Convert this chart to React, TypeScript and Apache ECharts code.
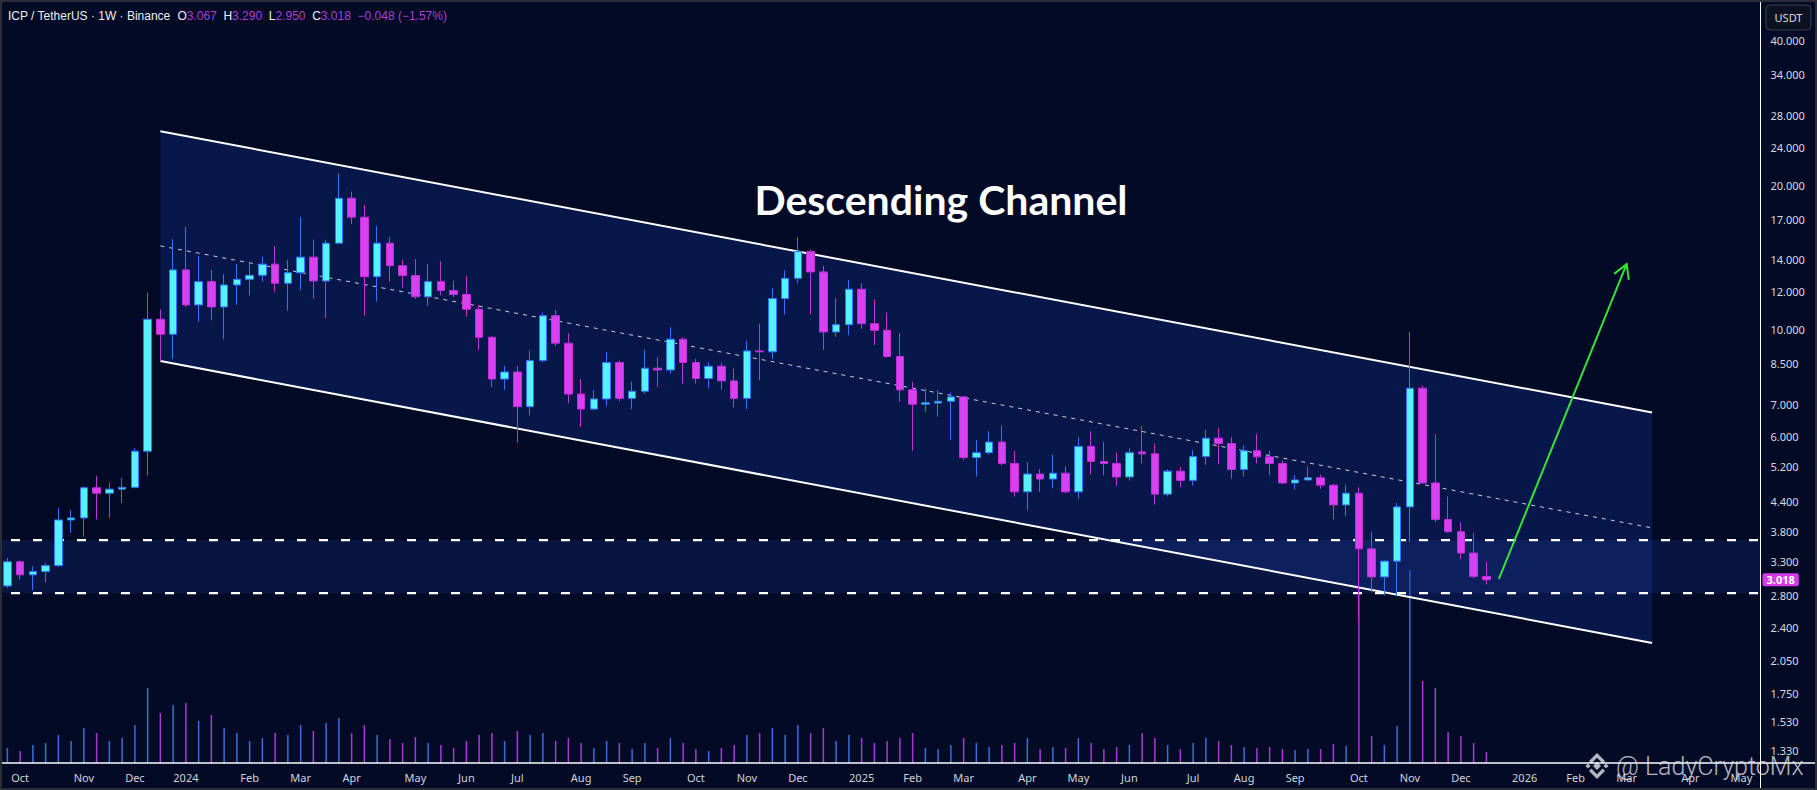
import React, { useEffect, useRef } from "react";
import * as echarts from "echarts";

// ---------- data ----------
const START_DATE_UTC = Date.UTC(2023, 8, 25); // first weekly candle (Mon 25 Sep 2023)
const WEEKS_ON_AXIS = 138; // candles + empty future weeks shown on the time axis

const opens = [
  2.93, 3.29, 3.09, 3.14, 3.23, 4.02, 4.06, 4.69, 4.57, 4.66,
  4.7, 5.59, 10.52, 9.79, 13.33, 11.27, 12.6, 11.16, 12.4, 12.74,
  12.99, 13.7, 12.5, 13.15, 14.17, 12.64, 15.15, 18.79, 17.16, 12.9,
  15.15, 13.6, 12.97, 11.72, 12.6, 12.07, 11.85, 11.04, 9.65, 7.9,
  8.17, 6.92, 8.63, 10.7, 9.38, 7.35, 6.84, 7.18, 8.55, 7.2,
  7.45, 8.32, 8.25, 9.56, 8.55, 7.92, 8.4, 7.83, 7.2, 9.04,
  9.0, 11.62, 12.8, 14.55, 13.2, 9.9, 10.25, 12.15, 10.3, 9.98,
  8.8, 7.5, 7.0, 7.04, 7.1, 7.25, 5.42, 5.55, 5.84, 5.27,
  4.6, 5.01, 4.89, 5.03, 4.6, 5.72, 5.32, 5.27, 4.94, 5.57,
  5.52, 4.55, 5.08, 4.86, 5.45, 5.95, 5.8, 5.12, 5.6, 5.44,
  5.27, 4.8, 4.87, 4.92, 4.75, 4.32, 4.57, 3.5, 3.06, 3.3,
  4.28, 7.56, 4.8, 4.03, 3.8, 3.43, 3.067,
];
const highs = [
  3.35, 3.31, 3.22, 3.27, 4.26, 4.22, 4.72, 4.97, 4.81, 4.92,
  5.67, 11.95, 11.04, 15.44, 16.4, 14.25, 13.33, 13.07, 13.72, 13.76,
  14.2, 14.95, 13.98, 17.16, 15.4, 15.4, 21.19, 19.4, 18.2, 16.46,
  15.6, 14.0, 14.05, 13.72, 13.9, 12.65, 12.95, 11.27, 9.7, 8.42,
  8.4, 9.05, 10.86, 11.0, 9.85, 7.9, 7.5, 9.0, 8.63, 7.8,
  9.1, 8.78, 10.12, 9.65, 8.7, 8.55, 8.55, 8.3, 9.5, 10.3,
  12.2, 13.3, 15.6, 14.7, 13.6, 11.65, 12.7, 12.5, 11.58, 10.86,
  9.85, 7.8, 7.55, 7.5, 7.4, 7.28, 5.9, 6.15, 6.33, 5.6,
  5.3, 5.13, 5.5, 5.2, 5.98, 6.15, 5.85, 5.55, 5.67, 6.3,
  5.8, 5.13, 5.18, 5.62, 6.18, 6.25, 5.98, 5.75, 6.08, 5.6,
  5.35, 4.98, 5.2, 5.0, 4.78, 4.76, 4.7, 3.8, 3.31, 4.36,
  9.9, 7.65, 6.06, 4.5, 3.98, 3.78, 3.29,
];
const lows = [
  2.9, 3.02, 2.87, 2.98, 3.21, 3.78, 3.71, 4.03, 4.06, 4.36,
  4.68, 4.97, 8.61, 8.7, 11.16, 10.4, 10.47, 9.56, 11.27, 11.78,
  12.6, 12.0, 10.96, 12.07, 11.6, 10.57, 15.1, 16.6, 10.7, 11.45,
  12.6, 12.24, 11.6, 11.2, 11.8, 11.7, 10.65, 9.08, 7.6, 7.5,
  5.82, 6.63, 8.55, 9.25, 7.03, 6.28, 6.8, 6.95, 7.1, 6.84,
  7.36, 7.6, 8.1, 7.73, 7.73, 7.55, 7.5, 6.9, 6.84, 7.85,
  8.7, 10.76, 12.5, 10.76, 9.08, 9.68, 9.75, 10.05, 9.3, 8.75,
  7.08, 5.6, 6.75, 6.6, 5.9, 5.35, 4.95, 5.5, 5.22, 4.5,
  4.21, 4.6, 4.68, 4.57, 4.45, 5.0, 4.98, 4.73, 4.86, 5.27,
  4.33, 4.5, 4.7, 4.74, 5.24, 5.25, 4.9, 4.95, 5.27, 4.98,
  4.78, 4.65, 4.86, 4.67, 4.03, 4.1, 2.5, 2.84, 2.8, 2.79,
  3.62, 4.78, 3.98, 3.78, 3.33, 3.04, 2.95,
];
const closes = [
  3.29, 3.09, 3.14, 3.23, 4.02, 4.06, 4.69, 4.57, 4.66, 4.7,
  5.59, 10.52, 9.79, 13.33, 11.27, 12.6, 11.16, 12.4, 12.74, 12.99,
  13.7, 12.5, 13.15, 14.17, 12.64, 15.15, 18.79, 17.16, 12.9, 15.15,
  13.6, 12.97, 11.72, 12.6, 12.07, 11.85, 11.04, 9.65, 7.9, 8.17,
  6.92, 8.63, 10.7, 9.38, 7.35, 6.84, 7.18, 8.55, 7.2, 7.45,
  8.32, 8.25, 9.56, 8.55, 7.92, 8.4, 7.83, 7.2, 9.04, 9.0,
  11.62, 12.8, 14.55, 13.2, 9.9, 10.25, 12.15, 10.3, 9.98, 8.8,
  7.5, 7.0, 7.05, 7.1, 7.25, 5.42, 5.55, 5.84, 5.27, 4.6,
  5.01, 4.89, 5.03, 4.6, 5.72, 5.32, 5.27, 4.94, 5.55, 5.52,
  4.55, 5.08, 4.86, 5.45, 5.95, 5.8, 5.12, 5.6, 5.44, 5.27,
  4.8, 4.87, 4.92, 4.75, 4.32, 4.57, 3.5, 3.06, 3.3, 4.28,
  7.56, 4.8, 4.03, 3.8, 3.43, 3.067, 3.018,
];
const volumes = [
  15, 12, 18, 20, 28, 22, 35, 30, 22, 25,
  38, 75, 50, 58, 60, 42, 48, 35, 30, 22,
  25, 30, 28, 38, 32, 40, 45, 30, 38, 28,
  24, 20, 26, 20, 18, 15, 22, 28, 30, 22,
  32, 28, 30, 22, 25, 20, 15, 22, 20, 14,
  20, 15, 25, 20, 14, 12, 15, 18, 28, 30,
  35, 28, 38, 30, 35, 22, 28, 25, 20, 22,
  25, 30, 15, 14, 18, 25, 20, 16, 18, 20,
  25, 14, 16, 15, 25, 20, 14, 16, 18, 30,
  25, 18, 14, 20, 25, 22, 18, 16, 15, 16,
  14, 13, 14, 14, 19, 17, 175, 27, 18, 37,
  193, 82, 75, 31, 27, 20, 11,
];
const VOLUME_AXIS_MAX = 763;

const priceTicks = [40, 34, 28, 24, 20, 17, 14, 12, 10, 8.5, 7, 6, 5.2, 4.4, 3.8, 3.3, 2.8, 2.4, 2.05, 1.75, 1.53, 1.33];
const priceRange = [1.254, 48.6];

const channelWeeks = [12, 129];
const channelUpper = [25.9, 6.73];
const channelMid = [14.95, 3.87];
const channelLower = [8.61, 2.23];
const zoneLevels = [3.65, 2.83];
const arrowWeeks = [117, 127];
const arrowPrices = [3.04, 13.7];

const headerOHLC = [3.067, 3.29, 2.95, 3.018];
const headerChange = -0.048;
const headerChangePct = -1.57;
const lastPrice = 3.018;

const monthNames = ["Jan", "Feb", "Mar", "Apr", "May", "Jun", "Jul", "Aug", "Sep", "Oct", "Nov", "Dec"];

// ---------- derived ----------
const categories: string[] = [];
for (let i = 0; i < WEEKS_ON_AXIS; i++) {
  categories.push(new Date(START_DATE_UTC + i * 7 * 86400000).toISOString().slice(0, 10));
}
const lg = (v: number) => Math.log10(v);

const W = 1817;
const H = 790;
const BG = "#020a26";
const UP = "#55f2ff";
const UP_EDGE = "#2f74ff";
const DOWN = "#d840f0";
const DOWN_EDGE = "#c02fdc";
const FONT = "'Noto Sans', 'DejaVu Sans', sans-serif";
const HEAD_FONT = "'Liberation Sans', Arial, sans-serif";

export default function App() {
  const ref = useRef<HTMLDivElement>(null);

  useEffect(() => {
    if (!ref.current) return;
    const chart = echarts.init(ref.current, undefined, { renderer: "svg" });

    const candleData = opens.map((o, i) => [lg(o), lg(closes[i]), lg(lows[i]), lg(highs[i])]);
    const volData = volumes.map((v, i) => ({
      value: v,
      itemStyle: { color: closes[i] >= opens[i] ? "#3a6fd8" : "#a83ad4" },
    }));

    const fmt = (v: number) => v.toFixed(3);
    const signed = (v: number) => (v < 0 ? "\u2212" : "+") + Math.abs(v).toFixed(3);
    const headerText =
      "{w|ICP / TetherUS \u00b7 1W \u00b7 Binance}  " +
      `{w|O}{v|${fmt(headerOHLC[0])}}  {w|H}{v|${fmt(headerOHLC[1])}}  {w|L}{v|${fmt(headerOHLC[2])}}  {w|C}{v|${fmt(headerOHLC[3])}}  ` +
      `{v|${signed(headerChange)} (${headerChangePct < 0 ? "\u2212" : "+"}${Math.abs(headerChangePct).toFixed(2)}%)}`;

    const option: any = {
      animation: false,
      backgroundColor: BG,
      grid: { left: 1, right: 56.5, top: 0, bottom: 27, containLabel: false },
      xAxis: {
        type: "category",
        data: categories,
        boundaryGap: true,
        axisLine: { show: false },
        axisTick: { show: false },
        splitLine: { show: false },
        axisLabel: {
          interval: (_idx: number, val: string) => Number(val.slice(8, 10)) <= 7,
          formatter: (val: string) => {
            const m = Number(val.slice(5, 7));
            return m === 1 ? val.slice(0, 4) : monthNames[m - 1];
          },
          color: "#d1d4dc",
          fontSize: 11,
          fontFamily: FONT,
          margin: 9,
          hideOverlap: false,
        },
      },
      yAxis: [
        {
          type: "value",
          position: "right",
          min: lg(priceRange[0]),
          max: lg(priceRange[1]),
          axisLine: { show: false },
          axisTick: { show: false },
          splitLine: { show: false },
          axisLabel: {
            customValues: priceTicks.map((p) => lg(p)),
            formatter: (v: number) => Math.pow(10, v).toFixed(3),
            color: "#d8dae2",
            fontSize: 11,
            fontFamily: FONT,
            margin: 10,
          },
        },
        { type: "value", min: 0, max: VOLUME_AXIS_MAX, show: false },
      ],
      series: [
        {
          type: "bar",
          yAxisIndex: 1,
          data: volData,
          barWidth: 1.5,
          z: 1,
          silent: true,
        },
        {
          type: "custom",
          z: 2,
          silent: true,
          data: [[0, 0]],
          renderItem: (params: any, api: any) => {
            const cs = params.coordSys;
            const pt = (w: number, v: number) => api.coord([w, lg(v)]);
            const u0 = pt(channelWeeks[0], channelUpper[0]);
            const u1 = pt(channelWeeks[1], channelUpper[1]);
            const m0 = pt(channelWeeks[0], channelMid[0]);
            const m1 = pt(channelWeeks[1], channelMid[1]);
            const l0 = pt(channelWeeks[0], channelLower[0]);
            const l1 = pt(channelWeeks[1], channelLower[1]);
            const zt = api.coord([0, lg(zoneLevels[0])])[1];
            const zb = api.coord([0, lg(zoneLevels[1])])[1];
            const xr = cs.x + cs.width;
            return {
              type: "group",
              children: [
                { type: "polygon", shape: { points: [u0, u1, l1, l0] }, style: { fill: "rgba(24,56,160,0.30)" } },
                { type: "rect", shape: { x: cs.x, y: zt, width: cs.width, height: zb - zt }, style: { fill: "rgba(34,62,160,0.22)" } },
                { type: "line", shape: { x1: cs.x + 10, y1: zt, x2: xr, y2: zt }, style: { stroke: "#ffffff", lineWidth: 2.2, lineDash: [9, 13] } },
                { type: "line", shape: { x1: cs.x + 10, y1: zb, x2: xr, y2: zb }, style: { stroke: "#ffffff", lineWidth: 2.2, lineDash: [9, 13] } },
                { type: "line", shape: { x1: m0[0], y1: m0[1], x2: m1[0], y2: m1[1] }, style: { stroke: "rgba(235,238,245,0.85)", lineWidth: 1, lineDash: [4, 5] } },
                { type: "line", shape: { x1: u0[0], y1: u0[1], x2: u1[0], y2: u1[1] }, style: { stroke: "#ffffff", lineWidth: 2 } },
                { type: "line", shape: { x1: l0[0], y1: l0[1], x2: l1[0], y2: l1[1] }, style: { stroke: "#ffffff", lineWidth: 2 } },
              ],
            };
          },
        },
        {
          type: "candlestick",
          z: 5,
          data: candleData,
          barWidth: 8,
          itemStyle: {
            color: UP,
            color0: DOWN,
            borderColor: UP_EDGE,
            borderColor0: DOWN_EDGE,
            borderWidth: 1,
          },
          markLine: {
            silent: true,
            symbol: ["none", "none"],
            data: [
              {
                yAxis: lg(lastPrice),
                lineStyle: { color: "rgba(0,0,0,0)", width: 0 },
                label: {
                  show: true,
                  position: "end",
                  distance: 2,
                  formatter: lastPrice.toFixed(3),
                  backgroundColor: "#d63ae6",
                  color: "#ffffff",
                  opacity: 1,
                  fontSize: 11,
                  fontWeight: "bold",
                  fontFamily: FONT,
                  padding: [1, 4, 1, 4],
                  borderRadius: 2,
                },
              },
            ],
          },
        },
        {
          type: "custom",
          z: 6,
          silent: true,
          data: [[0, 0]],
          renderItem: (_params: any, api: any) => {
            const a = api.coord([arrowWeeks[0], lg(arrowPrices[0])]);
            const b = api.coord([arrowWeeks[1], lg(arrowPrices[1])]);
            const ang = Math.atan2(b[1] - a[1], b[0] - a[0]);
            const len = 15;
            const spread = (30 * Math.PI) / 180;
            const h1 = [b[0] - len * Math.cos(ang - spread), b[1] - len * Math.sin(ang - spread)];
            const h2 = [b[0] - len * Math.cos(ang + spread), b[1] - len * Math.sin(ang + spread)];
            const st = { stroke: "#35e23c", lineWidth: 2, lineCap: "round" };
            return {
              type: "group",
              children: [
                { type: "line", shape: { x1: a[0], y1: a[1], x2: b[0], y2: b[1] }, style: st },
                { type: "polyline", shape: { points: [h1, b, h2] }, style: { ...st, fill: "none" } },
              ],
            };
          },
        },
      ],
      graphic: [
        {
          type: "line",
          silent: true,
          z: 50,
          shape: { x1: W - 56.5, y1: 0, x2: W - 56.5, y2: H },
          style: { stroke: "#ffffff", lineWidth: 1 },
        },
        {
          type: "line",
          silent: true,
          z: 50,
          shape: { x1: 0, y1: H - 27, x2: W, y2: H - 27 },
          style: { stroke: "#ffffff", lineWidth: 1.5 },
        },
        {
          type: "text",
          silent: true,
          z: 60,
          x: 8,
          y: 16,
          style: {
            text: headerText,
            verticalAlign: "middle",
            rich: {
              w: { fill: "#eceef4", fontSize: 12, fontFamily: HEAD_FONT },
              v: { fill: "#a840d8", fontSize: 12, fontFamily: HEAD_FONT },
            },
          },
        },
        {
          type: "text",
          silent: true,
          z: 60,
          x: 941,
          y: 199,
          style: {
            text: "Descending Channel",
            align: "center",
            verticalAlign: "middle",
            fill: "#ffffff",
            fontSize: 41,
            fontWeight: "bold",
            fontFamily: "Lato, 'Noto Sans', sans-serif",
          },
        },
        {
          type: "rect",
          silent: true,
          z: 60,
          shape: { x: 1766, y: 5, width: 45, height: 25, r: 4 },
          style: { fill: "#0d1222", stroke: "#3c414d", lineWidth: 1 },
        },
        {
          type: "text",
          silent: true,
          z: 61,
          x: 1788.5,
          y: 17.5,
          style: {
            text: "USDT",
            align: "center",
            verticalAlign: "middle",
            fill: "#d8dae2",
            fontSize: 11,
            fontFamily: FONT,
          },
        },
        {
          type: "group",
          silent: true,
          z: 70,
          x: 1597,
          y: 766,
          children: [
            { type: "polygon", shape: { points: [[0, -4], [4, 0], [0, 4], [-4, 0]] }, style: { fill: "rgba(225,226,235,0.8)" } },
            { type: "polygon", shape: { points: [[-9, -2.6], [-6.4, 0], [-9, 2.6], [-11.6, 0]] }, style: { fill: "rgba(225,226,235,0.8)" } },
            { type: "polygon", shape: { points: [[9, -2.6], [11.6, 0], [9, 2.6], [6.4, 0]] }, style: { fill: "rgba(225,226,235,0.8)" } },
            { type: "polygon", shape: { points: [[0, -13], [8, -5], [5.6, -2.6], [0, -8.2], [-5.6, -2.6], [-8, -5]] }, style: { fill: "rgba(225,226,235,0.8)" } },
            { type: "polygon", shape: { points: [[0, 13], [8, 5], [5.6, 2.6], [0, 8.2], [-5.6, 2.6], [-8, 5]] }, style: { fill: "rgba(225,226,235,0.8)" } },
          ],
        },
        {
          type: "text",
          silent: true,
          z: 70,
          x: 1616,
          y: 766,
          style: {
            text: "@ LadyCryptoMx",
            verticalAlign: "middle",
            fill: "rgba(225,226,235,0.8)",
            fontSize: 25,
            fontWeight: 300,
            fontFamily: "Roboto, 'Noto Sans', sans-serif",
          },
        },
        {
          type: "rect",
          silent: true,
          z: 80,
          shape: { x: 0, y: 0, width: W, height: H },
          style: { fill: "none", stroke: "#2b2e37", lineWidth: 4 },
        },
      ],
    };

    chart.setOption(option);
    return () => chart.dispose();
  }, []);

  return (
    <div
      ref={ref}
      style={{ position: "fixed", left: 0, top: 0, width: W, height: H, background: BG }}
    />
  );
}
